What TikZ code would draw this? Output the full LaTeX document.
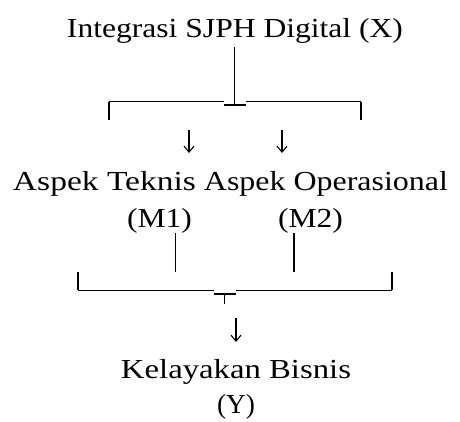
\documentclass[tikz,border=0pt]{standalone}
\usepackage{fontspec}
\setmainfont{Liberation Serif}
\usetikzlibrary{arrows.meta}
\newcommand\fitw[2]{\resizebox{#1}{\height}{#2}}
\tikzset{
  lbl/.style={inner sep=0pt, anchor=base, font=\fontsize{27.5}{32}\selectfont},
  ln/.style={line width=1.2pt},
  bar/.style={line width=2pt},
  arr/.style={line width=1.1pt, -{Straight Barb[length=6pt,width=10pt,line width=1.1pt]}}
}
\begin{document}
\begin{tikzpicture}[x=1pt,y=1pt]
\useasboundingbox (0,0) rectangle (460,421);
% texts (x-center, baseline)
\node[lbl] (X)  at (235,383) {\fitw{336pt}{Integrasi SJPH Digital (X)}};
\node[lbl] (A1) at (104.5,231) {\fitw{183pt}{Aspek Teknis}};
\node[lbl] (A2) at (326,231) {\fitw{244pt}{Aspek Operasional}};
\node[lbl] (M1) at (159.5,194) {\fitw{65pt}{(M1)}};
\node[lbl] (M2) at (310.5,194) {\fitw{65pt}{(M2)}};
\node[lbl] (Y1) at (236,43) {\fitw{230pt}{Kelayakan Bisnis}};
\node[lbl] (Y2) at (236,8) {\fitw{38pt}{(Y)}};
% top bracket
\coordinate (tx) at (234.5,374);
\coordinate (tj) at (234.5,316);
\coordinate (tl) at (109,319);
\coordinate (tr) at (361,319);
\draw[ln] (tx) -- (tj);
\draw[line width=1pt] (tl) -- (224,319) (245.5,319) -- (tr);
\draw[bar] (224,316) -- (245.5,316);
\draw[ln] (tl) -- ++(0,-18);
\draw[ln] (tr) -- ++(0,-18);
% arrows into aspects
\coordinate (a1s) at (189,291);
\coordinate (a1e) at (189,268);
\coordinate (a2s) at (282,291);
\coordinate (a2e) at (282,268);
\draw[arr] (a1s) -- (a1e);
\draw[arr] (a2s) -- (a2e);
% lines from M1, M2
\coordinate (m1s) at (175.7,188);
\coordinate (m1e) at (175.7,149);
\coordinate (m2s) at (294,188);
\coordinate (m2e) at (294,149);
\draw[ln] (m1s) -- (m1e);
\draw[ln] (m2s) -- (m2e);
% bottom bracket
\coordinate (bl) at (78,149);
\coordinate (br) at (392,149);
\draw[ln] (bl) -- (78,131);
\draw[ln] (br) -- (392,131);
\draw[line width=1pt] (78,131) -- (214,131) (235.7,131) -- (392,131);
\draw[bar] (214,127) -- (235.7,127);
\draw[ln] (224.3,127) -- (224.3,117);
% arrow to Y
\coordinate (ys) at (236,103);
\coordinate (ye) at (236,79);
\draw[arr] (ys) -- (ye);
\end{tikzpicture}
\end{document}
